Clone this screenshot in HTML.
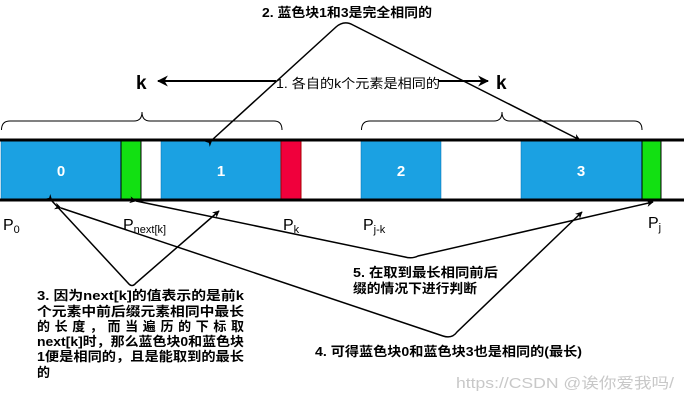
<!DOCTYPE html>
<html><head><meta charset="utf-8"><style>
html,body{margin:0;padding:0;background:#fff;}
svg{display:block;}
text{font-family:"Liberation Sans","Noto Sans CJK SC",sans-serif;}
</style></head><body>
<svg width="684" height="401" viewBox="0 0 684 401" xmlns="http://www.w3.org/2000/svg">
<defs>
<marker id="ah" viewBox="0 0 10 10" refX="9" refY="5" markerWidth="7" markerHeight="7" orient="auto" markerUnits="userSpaceOnUse">
<path d="M0,0 L10,5 L0,10 L3,5 z" fill="#000"/>
</marker>
<marker id="ah2" viewBox="0 0 10 10" refX="9" refY="5" markerWidth="11" markerHeight="11" orient="auto" markerUnits="userSpaceOnUse">
<path d="M0,0 L10,5 L0,10 L3,5 z" fill="#000"/>
</marker>
</defs>
<!-- blocks -->
<rect x="1" y="141" width="120" height="58" fill="#1ba1e2" stroke="#006eaf" stroke-width="0.5"/>
<rect x="121" y="141" width="20" height="58" fill="#12e012" stroke="#000" stroke-width="1"/>
<rect x="161" y="141" width="120" height="58" fill="#1ba1e2" stroke="#006eaf" stroke-width="0.5"/>
<rect x="281" y="141" width="20" height="58" fill="#f0003c" stroke="#a00" stroke-width="1"/>
<rect x="361" y="141" width="80" height="58" fill="#1ba1e2" stroke="#006eaf" stroke-width="0.5"/>
<rect x="521" y="141" width="121" height="58" fill="#1ba1e2" stroke="#006eaf" stroke-width="0.5"/>
<rect x="642" y="141" width="19" height="58" fill="#12e012" stroke="#000" stroke-width="1"/>
<line x1="0" y1="140" x2="684" y2="140" stroke="#000" stroke-width="3"/>
<line x1="0" y1="200" x2="684" y2="200" stroke="#000" stroke-width="3"/>
<g fill="#fff" font-weight="bold" font-size="15" text-anchor="middle">
<text x="61" y="176">0</text><text x="221" y="176">1</text><text x="401" y="176">2</text><text x="581" y="176">3</text>
</g>
<!-- braces -->
<path d="M1.5,130 Q1.5,121 10,121 L134,121 Q142,121 142,112 Q142,121 150,121 L274,121 Q282,121 282,130" fill="none" stroke="#000" stroke-width="1"/>
<path d="M361.5,130 Q361.5,121 370,121 L494,121 Q502,121 502,112 Q502,121 510,121 L634,121 Q642,121 642,130" fill="none" stroke="#000" stroke-width="1"/>
<!-- k -->
<text x="136" y="89" font-size="19" font-weight="bold">k</text>
<text x="496" y="89" font-size="19" font-weight="bold">k</text>
<line x1="276" y1="81" x2="158" y2="81" stroke="#000" stroke-width="2" marker-end="url(#ah2)"/>
<line x1="438" y1="81" x2="488" y2="81" stroke="#000" stroke-width="2" marker-end="url(#ah2)"/>
<text x="276" y="88" font-size="13" textLength="164" lengthAdjust="spacingAndGlyphs">1. 各自的k个元素是相同的</text>
<!-- top arrow -->
<text x="262" y="17" font-size="13" font-weight="bold" textLength="170" lengthAdjust="spacingAndGlyphs">2. 蓝色块1和3是完全相同的</text>
<path d="M212,140 L336,27 Q344,20 353,25 L580,140" fill="none" stroke="#000" stroke-width="1.5" marker-start="url(#ah)" marker-end="url(#ah)"/>
<!-- P labels -->
<g font-size="16">
<text x="3" y="230">P<tspan font-size="11" dy="3">0</tspan></text>
<text x="123" y="230">P<tspan font-size="11" dy="3">next[k]</tspan></text>
<text x="283" y="230">P<tspan font-size="11" dy="3">k</tspan></text>
<text x="363" y="230">P<tspan font-size="11" dy="3">j-k</tspan></text>
<text x="648" y="228">P<tspan font-size="11" dy="3">j</tspan></text>
</g>
<!-- lower arrows -->
<path d="M52,201 L128,283 Q132,288 136,283 L219,211" fill="none" stroke="#000" stroke-width="1.5" marker-start="url(#ah)" marker-end="url(#ah)"/>
<path d="M61,208 L443,336 Q452,339 457,332 L582,212" fill="none" stroke="#000" stroke-width="1.5" marker-start="url(#ah)" marker-end="url(#ah)"/>
<path d="M136,201 L405,257 Q412,259 418,256 L653,202" fill="none" stroke="#000" stroke-width="1.5" marker-start="url(#ah)" marker-end="url(#ah)"/>
<!-- texts -->
<g font-size="13" font-weight="bold">
<text x="37" y="300" textLength="207" lengthAdjust="spacingAndGlyphs">3.  因为next[k]的值表示的是前k</text>
<text x="37" y="316" textLength="207" lengthAdjust="spacingAndGlyphs">个元素中前后缀元素相同中最长</text>
<text x="37" y="331" textLength="207" lengthAdjust="spacing">的长度，而当遍历的下标取</text>
<text x="37" y="346" textLength="207" lengthAdjust="spacingAndGlyphs">next[k]时，那么蓝色块0和蓝色块</text>
<text x="37" y="361" textLength="207" lengthAdjust="spacingAndGlyphs">1便是相同的，且是能取到的最长</text>
<text x="37" y="377">的</text>
<text x="353" y="277" textLength="145" lengthAdjust="spacingAndGlyphs">5. 在取到最长相同前后</text>
<text x="353" y="293" textLength="124" lengthAdjust="spacingAndGlyphs">缀的情况下进行判断</text>
<text x="315" y="356" textLength="267" lengthAdjust="spacingAndGlyphs">4.  可得蓝色块0和蓝色块3也是相同的(最长)</text>
</g>
<text x="456" y="388" font-size="15" fill="#c8c8c8" textLength="218" lengthAdjust="spacingAndGlyphs">https://CSDN @诶你爱我吗/</text>
</svg>
</body></html>
